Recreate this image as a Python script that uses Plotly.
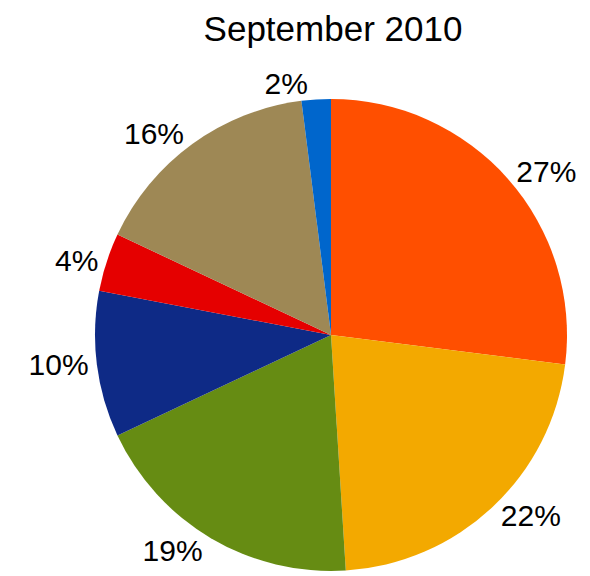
import plotly.graph_objects as go

# slices in clockwise order starting at 12 o'clock
slice_names = ["A", "B", "C", "D", "E", "F", "G"]
slice_values = [27, 22, 19, 10, 4, 16, 2]
slice_colors = ["#FF4F00", "#F3A900", "#668C13", "#0E2A86", "#E50000", "#9E8855", "#0066CC"]

W, H = 590, 576
cx, cy, r = 323, 327, 236  # page has an 8px body offset

fig = go.Figure()
fig.add_trace(go.Pie(
    labels=slice_names,
    values=slice_values,
    sort=False,
    direction="clockwise",
    rotation=0,
    marker=dict(colors=slice_colors, line=dict(width=0)),
    texttemplate="%{percent:.0%}",
    textposition="outside",
    textfont=dict(family="Liberation Sans, Arial, sans-serif", size=30, color="#000000"),
    domain=dict(x=[(cx - r) / W, (cx + r) / W], y=[1 - (cy + r) / H, 1 - (cy - r) / H]),
    showlegend=False,
    hoverinfo="label+value+percent",
))

fig.update_layout(
    width=W,
    height=H,
    margin=dict(l=0, r=0, t=0, b=0),
    paper_bgcolor="white",
    plot_bgcolor="white",
    title=dict(
        text="September 2010",
        x=325 / W, xanchor="center",
        y=1 - 21 / H, yanchor="middle",
        font=dict(family="Liberation Sans, Arial, sans-serif", size=35, color="#000000"),
    ),
)

fig.write_html("out.html")
